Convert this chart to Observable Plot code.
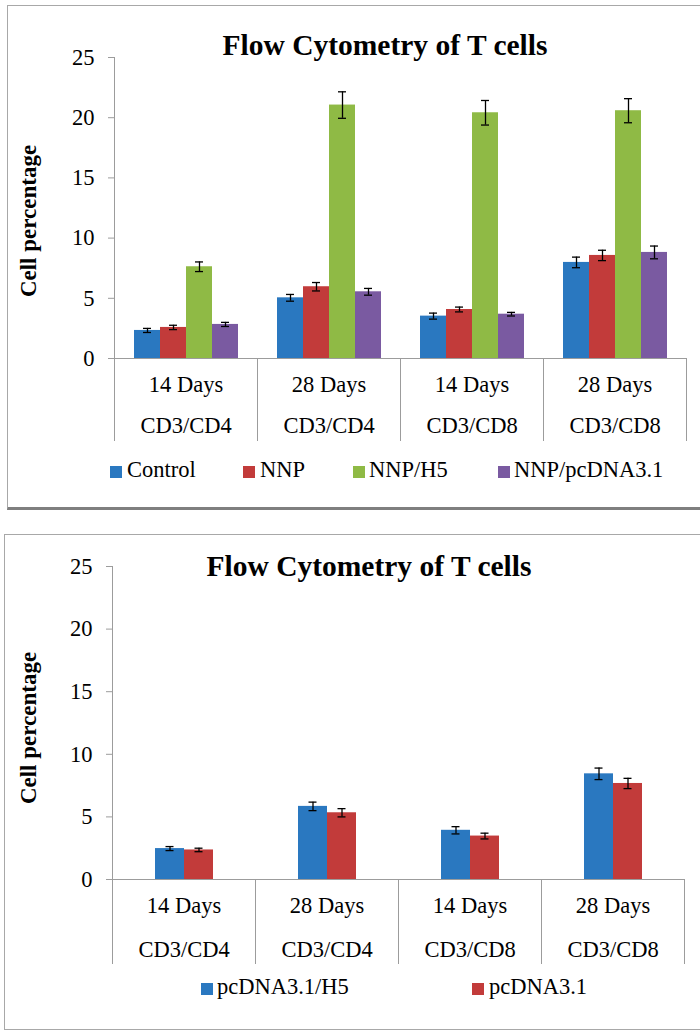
<!DOCTYPE html>
<html><head><meta charset="utf-8">
<script src="https://cdn.jsdelivr.net/npm/d3@7"></script>
<script src="https://cdn.jsdelivr.net/npm/@observablehq/plot@0.6"></script>
<style>
body{margin:0;width:700px;height:1034px;position:relative;overflow:hidden;background:#fff;font-family:"Liberation Serif","Times New Roman",serif;color:#000;}
.abs{position:absolute;white-space:nowrap;line-height:1;font-family:"Liberation Serif","Times New Roman",serif;}
.panel{position:absolute;box-sizing:border-box;}
.sq{position:absolute;width:12px;height:12px;}
svg text{font-family:"Liberation Serif","Times New Roman",serif !important;}
</style></head><body>
<div class="panel" style="left:7px;top:5px;width:720px;height:505px;border:1.5px solid #a8a8a8;border-bottom:3px solid #7f7f7f;"></div>
<div class="panel" style="left:4px;top:534px;width:720px;height:496px;border:1.5px solid #a8a8a8;"></div>
<div id="c1" style="position:absolute;left:0;top:0"></div>
<div id="c2" style="position:absolute;left:0;top:500px"></div>
<script>
// ---- data ----
const days = ["14 Days", "28 Days", "14 Days", "28 Days"];
const markers = ["CD3/CD4", "CD3/CD4", "CD3/CD8", "CD3/CD8"];
const yTicks = [0, 5, 10, 15, 20, 25];
const title = "Flow Cytometry of T cells";
const yLabel = "Cell percentage";

const series1 = ["Control", "NNP", "NNP/H5", "NNP/pcDNA3.1"];
const colors1 = ["#2a78c0", "#c23b3a", "#8fba45", "#7a5aa1"];
const control = [2.33, 5.04, 3.52, 7.98];
const nnp = [2.58, 5.96, 4.07, 8.56];
const nnpH5 = [7.62, 21.05, 20.41, 20.58];
const nnpPc = [2.83, 5.54, 3.68, 8.81];
const controlErr = [0.17, 0.28, 0.25, 0.44];
const nnpErr = [0.18, 0.35, 0.20, 0.43];
const nnpH5Err = [0.40, 1.10, 1.02, 1.00];
const nnpPcErr = [0.17, 0.28, 0.15, 0.53];

const series2 = ["pcDNA3.1/H5", "pcDNA3.1"];
const colors2 = ["#2a78c0", "#c23b3a"];
const pcH5 = [2.47, 5.84, 3.93, 8.44];
const pc = [2.36, 5.33, 3.47, 7.67];
const pcH5Err = [0.16, 0.34, 0.29, 0.46];
const pcErr = [0.14, 0.33, 0.23, 0.41];

// ---- helpers ----
const FONT = "Liberation Serif";
const cats = days.map((d, i) => ({key: d + " " + markers[i], day: d, marker: markers[i]}));
const catKeys = cats.map(c => c.key);
const gray = "#9c9c9c";

function rowsOf(series, vals, errs) {
  const rows = [];
  series.forEach((s, si) => cats.forEach((c, ci) =>
    rows.push({category: c.key, series: s, value: vals[si][ci], err: errs[si][ci]})));
  return rows;
}

function chart({series, colors, vals, errs, height, mL, mR, mT, mB, padOuter, below, capInset, dy1, dy2}) {
  const rows = rowsOf(series, vals, errs);
  const plotH = height - mT - mB;
  return Plot.plot({
    width: 700, height,
    marginLeft: mL, marginRight: mR, marginTop: mT, marginBottom: mB,
    style: {background: "transparent", overflow: "visible", fontFamily: FONT, fontSize: "22.5px", color: "black"},
    fx: {domain: catKeys, padding: 0, axis: null, label: null},
    x: {domain: series, paddingInner: 0, paddingOuter: padOuter, axis: null, label: null},
    y: {domain: [0, 25], axis: null, label: null},
    color: {domain: series, range: colors},
    marks: [
      Plot.barY(rows, {fx: "category", x: "series", y: "value", fill: "series"}),
      Plot.ruleY([0], {stroke: gray, strokeWidth: 1}),
      Plot.frame({anchor: "left", facetAnchor: "left", insetBottom: -below, stroke: gray}),
      Plot.frame({anchor: "right", insetTop: plotH, insetBottom: -below, stroke: gray}),
      Plot.axisY({ticks: yTicks, label: null, tickSize: 6, tickPadding: 14, stroke: gray, fill: "black", fontSize: 22.5, fontFamily: FONT}),
      Plot.ruleX(rows, {fx: "category", x: "series", y1: d => d.value - d.err, y2: d => d.value + d.err, stroke: "black", strokeWidth: 1.3}),
      Plot.tickY(rows, {fx: "category", x: "series", y: d => d.value - d.err, insetLeft: capInset, insetRight: capInset, stroke: "black", strokeWidth: 1.3}),
      Plot.tickY(rows, {fx: "category", x: "series", y: d => d.value + d.err, insetLeft: capInset, insetRight: capInset, stroke: "black", strokeWidth: 1.3}),
      Plot.text(cats, {fx: "key", text: "day", frameAnchor: "bottom", lineAnchor: "middle", dy: dy1, fontSize: 22.5, fontFamily: FONT, fill: "black"}),
      Plot.text(cats, {fx: "key", text: "marker", frameAnchor: "bottom", lineAnchor: "middle", dy: dy2, fontSize: 22.5, fontFamily: FONT, fill: "black"})
    ]
  });
}

function label(txt, x, baseline, size, opts = {}) {
  const el = document.createElement("div");
  el.className = "abs";
  el.textContent = txt;
  el.style.fontSize = size + "px";
  if (opts.bold) el.style.fontWeight = "bold";
  el.style.left = x + "px";
  el.style.top = (baseline - 0.8375 * size) + "px";
  if (opts.center) el.style.transform = "translateX(-50%)";
  document.body.appendChild(el);
}
function vlabel(txt, cx, cy, size) {
  const el = document.createElement("div");
  el.className = "abs";
  el.textContent = txt;
  el.style.fontSize = size + "px";
  el.style.fontWeight = "bold";
  el.style.left = cx + "px";
  el.style.top = cy + "px";
  el.style.transform = "translate(-50%,-50%) rotate(-90deg)";
  document.body.appendChild(el);
}
function legend(series, colors, sqLefts, txtLefts, sqTop, baseline) {
  series.forEach((s, i) => {
    const sq = document.createElement("div");
    sq.className = "sq";
    sq.style.left = sqLefts[i] + "px";
    sq.style.top = sqTop + "px";
    sq.style.background = colors[i];
    document.body.appendChild(sq);
    label(s, txtLefts[i], baseline, 22.5);
  });
}

// ---- panel 1 ----
document.getElementById("c1").appendChild(chart({
  series: series1, colors: colors1,
  vals: [control, nnp, nnpH5, nnpPc], errs: [controlErr, nnpErr, nnpH5Err, nnpPcErr],
  height: 450, mL: 113, mR: 13, mT: 57, mB: 92, padOuter: 0.73, below: 82, capInset: 9, dy1: 26.5, dy2: 67.5
}));
label(title, 385, 55.3, 29.5, {bold: true, center: true});
vlabel(yLabel, 28, 221, 23);
legend(series1, colors1, [110, 243, 353, 498], [127, 260, 369, 514], 466, 478);

// ---- panel 2 ----
document.getElementById("c2").appendChild(chart({
  series: series2, colors: colors2,
  vals: [pcH5, pc], errs: [pcH5Err, pcErr],
  height: 480, mL: 110, mR: 15, mT: 66, mB: 101, padOuter: 1.44, below: 84, capInset: 10.5, dy1: 26, dy2: 70.5
}));
label(title, 369, 577, 29.5, {bold: true, center: true});
vlabel(yLabel, 28, 728, 23);
legend(series2, colors2, [201, 472], [217, 489], 983, 995);
</script>
</body></html>
